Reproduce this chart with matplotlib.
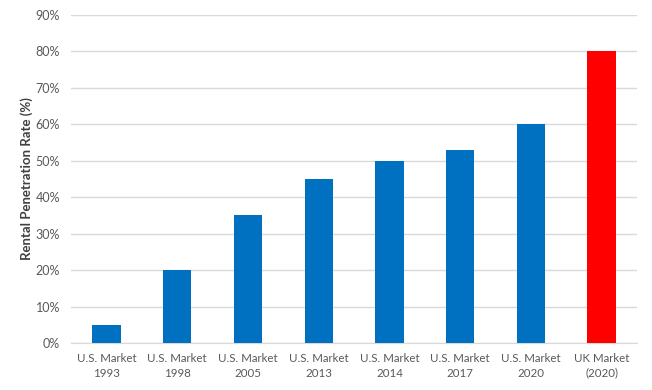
import matplotlib.pyplot as plt
from matplotlib.ticker import PercentFormatter

# Data
markets = ['U.S. Market\n1993', 'U.S. Market\n1998', 'U.S. Market\n2005', 'U.S. Market\n2013',
           'U.S. Market\n2014', 'U.S. Market\n2017', 'U.S. Market\n2020', 'UK Market\n(2020)']
penetration = [5, 20, 35, 45, 50, 53, 60, 80]
bar_colors = ['#0070C0'] * 7 + ['#FF0000']

plt.rcParams['font.family'] = ['Lato', 'DejaVu Sans']

fig = plt.figure(figsize=(6.52, 3.9), dpi=100)
ax = fig.add_axes([0.109, 0.1205, 0.868, 0.841])

x = range(len(markets))
ax.bar(x, penetration, width=0.4, color=bar_colors, zorder=3)

ax.set_xlim(-0.5, len(markets) - 0.5)
ax.set_ylim(0, 90)
ax.set_yticks(range(0, 91, 10))
ax.yaxis.set_major_formatter(PercentFormatter(decimals=0))
ax.set_xticks(list(x))
ax.set_xticklabels(markets, linespacing=1.45)

ax.grid(axis='y', color='#D9D9D9', linewidth=1, zorder=0)
for side in ['left', 'right', 'top']:
    ax.spines[side].set_visible(False)
ax.spines['bottom'].set_color('#D9D9D9')
ax.tick_params(axis='both', length=0, labelcolor='#595959')
ax.tick_params(axis='y', pad=8, labelsize=9)
ax.tick_params(axis='x', pad=7, labelsize=8.3)

ax.set_ylabel('Rental Penetration Rate (%)', fontsize=9.5, fontweight='bold', color='#404040', labelpad=1.5)

fig.savefig('out.png', dpi=100)
